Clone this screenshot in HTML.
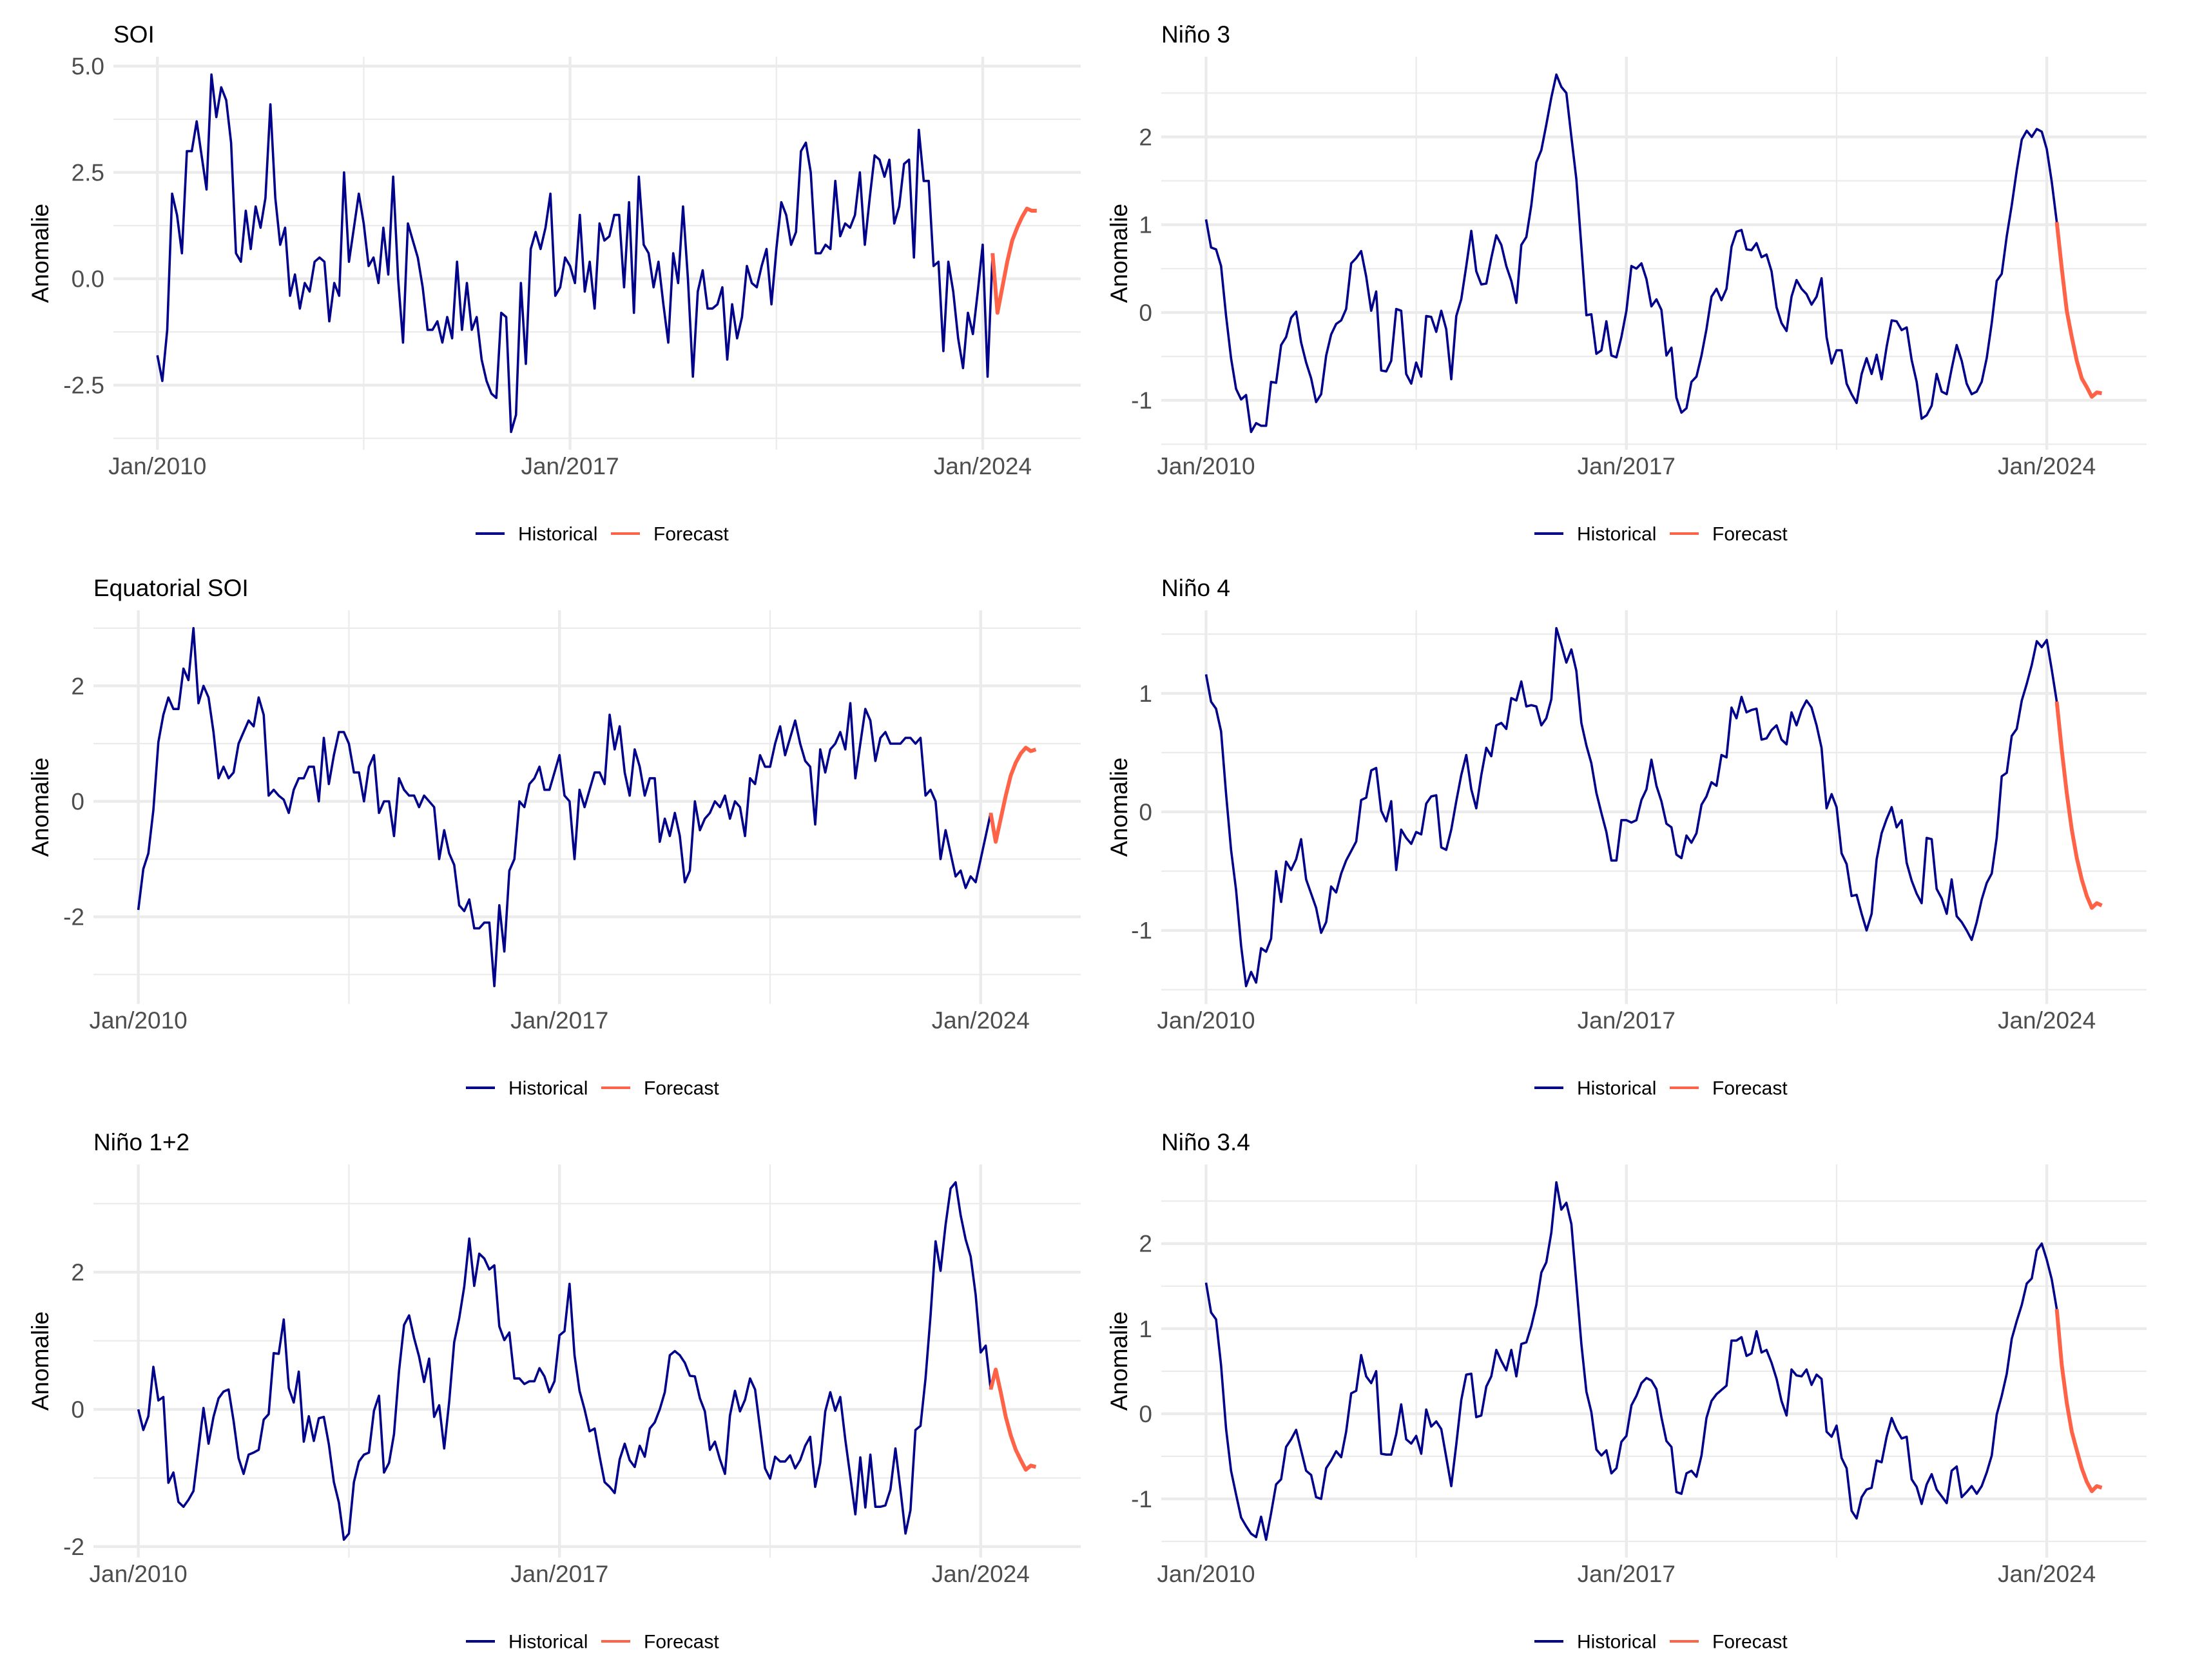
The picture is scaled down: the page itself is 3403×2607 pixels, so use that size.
<!DOCTYPE html>
<html><head><meta charset="utf-8"><style>
html,body{margin:0;padding:0;background:#fff;}
svg{display:block;font-family:"Liberation Sans",Arial,sans-serif;}
</style></head><body>
<svg id="chart" width="3403" height="2607" viewBox="0 0 3403 2607" xmlns="http://www.w3.org/2000/svg">
<rect x="0" y="0" width="3403" height="2607" fill="#ffffff"/>
</svg>
<script>
const xTickMonths = [0, 84, 168];
const xTickLabels = ["Jan/2010", "Jan/2017", "Jan/2024"];
const xMinorMonths = [42, 126];
const forecastStart = 170;

const soiHist = [-1.8,-2.4,-1.2,2.0,1.5,0.6,3.0,3.0,3.7,2.9, 2.1,4.8,3.8,4.5,4.2,3.2,0.6,0.4,1.6,0.7, 1.7,1.2,1.9,4.1,1.9,0.8,1.2,-0.4,0.1,-0.7, -0.1,-0.3,0.4,0.5,0.4,-1.0,-0.1,-0.4,2.5,0.4, 1.2,2.0,1.3,0.3,0.5,-0.1,1.2,0.1,2.4,0.0, -1.5,1.3,0.9,0.5,-0.2,-1.2,-1.2,-1.0,-1.5,-0.9, -1.4,0.4,-1.2,-0.1,-1.2,-0.9,-1.9,-2.4,-2.7,-2.8, -0.8,-0.9,-3.6,-3.2,-0.1,-2.0,0.7,1.1,0.7,1.2, 2.0,-0.4,-0.2,0.5,0.3,-0.1,1.5,-0.3,0.4,-0.7, 1.3,0.9,1.0,1.5,1.5,-0.2,1.8,-0.8,2.4,0.8, 0.6,-0.2,0.4,-0.6,-1.5,0.6,-0.1,1.7,0.0,-2.3, -0.3,0.2,-0.7,-0.7,-0.6,-0.2,-1.9,-0.6,-1.4,-0.9, 0.3,-0.1,-0.2,0.3,0.7,-0.6,0.7,1.8,1.5,0.8, 1.1,3.0,3.2,2.5,0.6,0.6,0.8,0.7,2.3,1.0, 1.3,1.2,1.5,2.5,0.8,1.9,2.9,2.8,2.4,2.8, 1.3,1.7,2.7,2.8,0.5,3.5,2.3,2.3,0.3,0.4, -1.7,0.4,-0.3,-1.4,-2.1,-0.8,-1.3,-0.3,0.8,-2.3, 0.6];
const soiFcst = [0.6,-0.8,-0.2,0.4,0.9,1.2,1.45,1.65,1.6,1.6];
const soiTicks = [-2.5, 0, 2.5, 5.0];
const soiTickLabels = ["-2.5", "0.0", "2.5", "5.0"];

const eqsoiHist = [-1.88,-1.17,-0.9,-0.15,1.03,1.5,1.8,1.6,1.6,2.3, 2.1,3.0,1.7,2.0,1.8,1.2,0.4,0.6,0.4,0.5, 1.0,1.2,1.4,1.3,1.8,1.5,0.1,0.2,0.1,0.03, -0.2,0.2,0.4,0.4,0.6,0.6,0.0,1.1,0.3,0.8, 1.2,1.2,1.0,0.5,0.5,0.0,0.6,0.8,-0.2,0.0, 0.0,-0.6,0.4,0.2,0.1,0.1,-0.1,0.1,0.0,-0.1, -1.0,-0.5,-0.9,-1.1,-1.8,-1.9,-1.7,-2.2,-2.2,-2.1, -2.1,-3.2,-1.8,-2.6,-1.2,-1.0,0.0,-0.1,0.3,0.4, 0.6,0.2,0.2,0.5,0.8,0.1,0.0,-1.0,0.2,-0.1, 0.2,0.5,0.5,0.3,1.5,0.9,1.3,0.5,0.1,0.9, 0.6,0.1,0.4,0.4,-0.7,-0.3,-0.6,-0.2,-0.6,-1.4, -1.2,0.0,-0.5,-0.3,-0.2,0.0,-0.1,0.1,-0.3,0.0, -0.1,-0.6,0.4,0.3,0.8,0.6,0.6,1.0,1.3,0.8, 1.1,1.4,1.0,0.7,0.6,-0.4,0.9,0.5,0.9,1.0, 1.2,0.9,1.7,0.4,1.0,1.6,1.4,0.7,1.1,1.2, 1.0,1.0,1.0,1.1,1.1,1.0,1.1,0.1,0.2,0.0, -1.0,-0.5,-0.9,-1.3,-1.2,-1.5,-1.3,-1.4,-1.0,-0.6, -0.2];
const eqsoiFcst = [-0.2,-0.7,-0.3,0.1,0.45,0.67,0.83,0.93,0.87,0.9];
const eqsoiTicks = [-2, 0, 2];
const eqsoiTickLabels = ["-2", "0", "2"];

const nino12Hist = [0.0,-0.3,-0.1,0.62,0.13,0.18,-1.07,-0.92,-1.35,-1.42, -1.32,-1.19,-0.59,0.02,-0.5,-0.11,0.16,0.26,0.29,-0.17, -0.71,-0.94,-0.66,-0.63,-0.59,-0.15,-0.07,0.82,0.81,1.31, 0.31,0.1,0.55,-0.47,-0.1,-0.46,-0.13,-0.11,-0.51,-1.06, -1.36,-1.9,-1.81,-1.06,-0.76,-0.66,-0.63,-0.02,0.2,-0.92, -0.78,-0.36,0.56,1.23,1.37,1.04,0.77,0.4,0.74,-0.11, 0.06,-0.57,0.11,0.98,1.33,1.79,2.49,1.8,2.27,2.2, 2.04,2.1,1.21,1.01,1.12,0.45,0.45,0.37,0.41,0.41, 0.6,0.48,0.25,0.41,1.08,1.14,1.83,0.79,0.27,0.0, -0.32,-0.28,-0.69,-1.06,-1.13,-1.22,-0.73,-0.5,-0.74,-0.84, -0.53,-0.69,-0.28,-0.19,0.0,0.25,0.79,0.85,0.79,0.68, 0.49,0.48,0.16,-0.03,-0.59,-0.47,-0.73,-0.94,-0.09,0.27, -0.03,0.14,0.45,0.29,-0.28,-0.86,-1.01,-0.69,-0.76,-0.76, -0.67,-0.86,-0.74,-0.53,-0.4,-1.13,-0.78,-0.03,0.25,-0.02, 0.18,-0.44,-0.98,-1.53,-0.7,-1.43,-0.66,-1.42,-1.42,-1.4, -1.17,-0.57,-1.17,-1.81,-1.47,-0.3,-0.24,0.45,1.37,2.45, 2.02,2.69,3.22,3.31,2.83,2.48,2.23,1.67,0.83,0.93, 0.29];
const nino12Fcst = [0.29,0.58,0.25,-0.11,-0.38,-0.59,-0.74,-0.88,-0.82,-0.84];
const nino12Ticks = [-2, 0, 2];
const nino12TickLabels = ["-2", "0", "2"];

const nino3Hist = [1.06,0.74,0.72,0.53,-0.04,-0.52,-0.87,-0.99,-0.94,-1.36, -1.26,-1.29,-1.29,-0.79,-0.8,-0.37,-0.28,-0.06,0.01,-0.34, -0.57,-0.75,-1.02,-0.93,-0.49,-0.25,-0.13,-0.09,0.04,0.56, 0.62,0.7,0.41,0.02,0.24,-0.66,-0.67,-0.55,0.04,0.02, -0.7,-0.81,-0.57,-0.73,-0.04,-0.05,-0.22,0.02,-0.19,-0.76, -0.04,0.15,0.53,0.93,0.47,0.32,0.33,0.62,0.88,0.77, 0.53,0.36,0.11,0.77,0.86,1.22,1.71,1.85,2.14,2.45, 2.71,2.57,2.5,2.0,1.52,0.75,-0.03,-0.02,-0.47,-0.43, -0.1,-0.49,-0.51,-0.28,0.02,0.53,0.5,0.56,0.38,0.07, 0.15,0.03,-0.49,-0.4,-0.97,-1.14,-1.09,-0.79,-0.73,-0.49, -0.19,0.18,0.27,0.14,0.27,0.75,0.92,0.94,0.72,0.71, 0.79,0.63,0.66,0.47,0.06,-0.12,-0.21,0.18,0.37,0.27, 0.21,0.09,0.18,0.39,-0.28,-0.58,-0.43,-0.43,-0.81,-0.93, -1.03,-0.7,-0.52,-0.7,-0.48,-0.76,-0.39,-0.09,-0.1,-0.2, -0.17,-0.54,-0.79,-1.21,-1.17,-1.06,-0.7,-0.9,-0.93,-0.64, -0.37,-0.55,-0.81,-0.93,-0.9,-0.79,-0.52,-0.12,0.36,0.44, 0.87,1.22,1.62,1.97,2.07,2.0,2.09,2.06,1.86,1.49, 1.03];
const nino3Fcst = [1.03,0.5,0.02,-0.28,-0.55,-0.75,-0.85,-0.96,-0.91,-0.92];
const nino3Ticks = [-1, 0, 1, 2];
const nino3TickLabels = ["-1", "0", "1", "2"];

const nino4Hist = [1.16,0.93,0.87,0.68,0.15,-0.32,-0.66,-1.13,-1.47,-1.35, -1.44,-1.15,-1.18,-1.07,-0.5,-0.76,-0.42,-0.49,-0.4,-0.23, -0.57,-0.69,-0.81,-1.02,-0.93,-0.63,-0.68,-0.52,-0.41,-0.33, -0.25,0.1,0.12,0.35,0.37,0.01,-0.08,0.09,-0.49,-0.15, -0.22,-0.27,-0.17,-0.19,0.07,0.13,0.14,-0.3,-0.32,-0.15, 0.09,0.31,0.48,0.19,0.03,0.31,0.54,0.47,0.73,0.75, 0.7,0.96,0.94,1.1,0.89,0.9,0.89,0.73,0.79,0.95, 1.55,1.41,1.26,1.37,1.19,0.75,0.56,0.41,0.16,-0.01, -0.17,-0.41,-0.41,-0.07,-0.07,-0.09,-0.07,0.1,0.19,0.44, 0.22,0.09,-0.1,-0.13,-0.36,-0.39,-0.2,-0.26,-0.18,0.06, 0.13,0.25,0.22,0.48,0.46,0.88,0.79,0.97,0.84,0.86, 0.87,0.61,0.62,0.69,0.73,0.61,0.57,0.84,0.73,0.86, 0.94,0.88,0.73,0.54,0.03,0.15,0.04,-0.35,-0.44,-0.71, -0.7,-0.86,-1.0,-0.86,-0.4,-0.18,-0.06,0.04,-0.13,-0.07, -0.43,-0.58,-0.69,-0.77,-0.22,-0.23,-0.65,-0.73,-0.86,-0.57, -0.88,-0.93,-1.0,-1.08,-0.93,-0.74,-0.6,-0.52,-0.22,0.3, 0.33,0.64,0.7,0.94,1.08,1.24,1.44,1.39,1.45,1.2, 0.93];
const nino4Fcst = [0.93,0.52,0.16,-0.15,-0.39,-0.57,-0.71,-0.81,-0.77,-0.79];
const nino4Ticks = [-1, 0, 1];
const nino4TickLabels = ["-1", "0", "1"];

const nino34Hist = [1.54,1.19,1.11,0.57,-0.18,-0.67,-0.95,-1.22,-1.32,-1.41, -1.45,-1.21,-1.48,-1.17,-0.83,-0.77,-0.39,-0.3,-0.19,-0.43, -0.67,-0.72,-0.98,-1.0,-0.64,-0.55,-0.44,-0.51,-0.21,0.24, 0.27,0.69,0.44,0.36,0.5,-0.47,-0.48,-0.48,-0.24,0.11, -0.3,-0.35,-0.26,-0.47,0.05,-0.15,-0.09,-0.18,-0.51,-0.85, -0.36,0.16,0.46,0.47,-0.04,-0.02,0.32,0.44,0.75,0.62, 0.51,0.75,0.44,0.82,0.84,1.03,1.28,1.66,1.78,2.13, 2.72,2.4,2.48,2.23,1.53,0.82,0.26,0.02,-0.42,-0.49, -0.43,-0.7,-0.64,-0.33,-0.26,0.1,0.21,0.36,0.42,0.39, 0.29,-0.04,-0.32,-0.39,-0.92,-0.94,-0.7,-0.67,-0.74,-0.49, -0.05,0.15,0.23,0.28,0.33,0.86,0.86,0.9,0.68,0.71, 0.97,0.72,0.75,0.6,0.41,0.15,-0.02,0.52,0.45,0.44, 0.52,0.34,0.46,0.41,-0.21,-0.27,-0.14,-0.52,-0.64,-1.14, -1.23,-0.98,-0.89,-0.87,-0.55,-0.57,-0.27,-0.05,-0.19,-0.29, -0.27,-0.77,-0.86,-1.06,-0.83,-0.71,-0.89,-0.97,-1.05,-0.67, -0.62,-0.98,-0.92,-0.85,-0.94,-0.85,-0.69,-0.49,-0.01,0.21, 0.47,0.88,1.09,1.28,1.53,1.59,1.92,2.0,1.81,1.58, 1.23];
const nino34Fcst = [1.23,0.57,0.13,-0.21,-0.43,-0.64,-0.8,-0.91,-0.85,-0.87];
const nino34Ticks = [-1, 0, 1, 2];
const nino34TickLabels = ["-1", "0", "1", "2"];

const legendLabels = ["Historical", "Forecast"];

const NS = "http://www.w3.org/2000/svg";
const svg = document.getElementById("chart");
function mk(tag, attrs, parent) {
  const el = document.createElementNS(NS, tag);
  for (const k in attrs) el.setAttribute(k, attrs[k]);
  (parent || svg).appendChild(el);
  return el;
}

const panels = [
  {key: "soi", title: "SOI", hist: soiHist, fcst: soiFcst, ticks: soiTicks, labels: soiTickLabels, L: 176, R: 1677, top: 88, bottom: 698, axX: 62, legX: 738},
  {key: "equatorial-soi", title: "Equatorial SOI", hist: eqsoiHist, fcst: eqsoiFcst, ticks: eqsoiTicks, labels: eqsoiTickLabels, L: 145, R: 1677, top: 947, bottom: 1558, axX: 62, legX: 723},
  {key: "nino-12", title: "Niño 1+2", hist: nino12Hist, fcst: nino12Fcst, ticks: nino12Ticks, labels: nino12TickLabels, L: 145, R: 1677, top: 1807, bottom: 2417, axX: 62, legX: 723},
  {key: "nino-3", title: "Niño 3", hist: nino3Hist, fcst: nino3Fcst, ticks: nino3Ticks, labels: nino3TickLabels, L: 1802, R: 3331, top: 88, bottom: 698, axX: 1736, legX: 2381},
  {key: "nino-4", title: "Niño 4", hist: nino4Hist, fcst: nino4Fcst, ticks: nino4Ticks, labels: nino4TickLabels, L: 1802, R: 3331, top: 947, bottom: 1558, axX: 1736, legX: 2381},
  {key: "nino-34", title: "Niño 3.4", hist: nino34Hist, fcst: nino34Fcst, ticks: nino34Ticks, labels: nino34TickLabels, L: 1802, R: 3331, top: 1807, bottom: 2417, axX: 1736, legX: 2381}
];

const GRID = "#EBEBEB", HIST = "#00008B", FCST = "#FF6347", TICKC = "#4D4D4D";

panels.forEach(p => {
  const g = mk("g", {});
  
  

  const nMonths = forecastStart + p.fcst.length - 1;
  const xMinD = 0 - nMonths * 0.05, xMaxD = nMonths * 1.05;
  const xs = m => p.L + (m - xMinD) / (xMaxD - xMinD) * (p.R - p.L);
  const all = p.hist.concat(p.fcst);
  const dMin = Math.min(...all), dMax = Math.max(...all);
  const pad = (dMax - dMin) * 0.05;
  const yMin = dMin - pad, yMax = dMax + pad;
  const ys = v => p.bottom - (v - yMin) / (yMax - yMin) * (p.bottom - p.top);

  const step = p.ticks[1] - p.ticks[0];
  const minors = [];
  for (let i = -1; i < p.ticks.length; i++) {
    const v = p.ticks[0] + (i + 0.5) * step;
    if (v >= yMin && v <= yMax) minors.push(v);
  }
  minors.forEach(v => {
    const l = mk("line", {x1: p.L, x2: p.R, y1: ys(v), y2: ys(v), stroke: GRID, "stroke-width": 2.2}, g);
    
    
  });
  xMinorMonths.forEach(m => {
    const l = mk("line", {x1: xs(m), x2: xs(m), y1: p.top, y2: p.bottom, stroke: GRID, "stroke-width": 2.2}, g);
    
    
  });
  p.ticks.forEach((v, i) => {
    const l = mk("line", {x1: p.L, x2: p.R, y1: ys(v), y2: ys(v), stroke: GRID, "stroke-width": 4.4}, g);
    
    
    const t = mk("text", {x: p.L - 14, y: ys(v), dy: "0.35em", "text-anchor": "end", "font-size": 37, fill: TICKC}, g);
    t.textContent = p.labels[i];
    
    
  });
  xTickMonths.forEach((m, i) => {
    const l = mk("line", {x1: xs(m), x2: xs(m), y1: p.top, y2: p.bottom, stroke: GRID, "stroke-width": 4.4}, g);
    
    
    const t = mk("text", {x: xs(m), y: p.bottom + 38, "text-anchor": "middle", "font-size": 37, fill: TICKC}, g);
    t.textContent = xTickLabels[i];
    
    
  });

  const hp = p.hist.map((v, i) => xs(i).toFixed(1) + "," + ys(v).toFixed(1)).join(" ");
  const hl = mk("polyline", {points: hp, fill: "none", stroke: HIST, "stroke-width": 3.6, "stroke-linejoin": "round"}, g);
  
  
  const fp = p.fcst.map((v, i) => xs(forecastStart + i).toFixed(1) + "," + ys(v).toFixed(1)).join(" ");
  const fl = mk("polyline", {points: fp, fill: "none", stroke: FCST, "stroke-width": 6, "stroke-linejoin": "round"}, g);
  
  

  const tt = mk("text", {x: p.L, y: p.top - 22, "font-size": 37, fill: "#000"}, g);
  tt.textContent = p.title;
  
  

  const cy = (p.top + p.bottom) / 2;
  const at = mk("text", {x: p.axX, y: cy, "text-anchor": "middle", "font-size": 37, fill: "#000", transform: "rotate(-90 " + p.axX + " " + cy + ")", dy: "0.35em"}, g);
  at.textContent = "Anomalie";
  
  

  const ly = p.bottom + 130;
  const lg = mk("g", {}, g);
  
  
  const l1 = mk("line", {x1: p.legX, x2: p.legX + 45, y1: ly, y2: ly, stroke: HIST, "stroke-width": 4}, lg);
  
  
  const t1 = mk("text", {x: p.legX + 66, y: ly, dy: "0.35em", "font-size": 30, fill: "#000"}, lg);
  t1.textContent = legendLabels[0];
  
  
  const l2 = mk("line", {x1: p.legX + 210, x2: p.legX + 255, y1: ly, y2: ly, stroke: FCST, "stroke-width": 4}, lg);
  
  
  const t2 = mk("text", {x: p.legX + 276, y: ly, dy: "0.35em", "font-size": 30, fill: "#000"}, lg);
  t2.textContent = legendLabels[1];
  
  
});
</script>
</body></html>
